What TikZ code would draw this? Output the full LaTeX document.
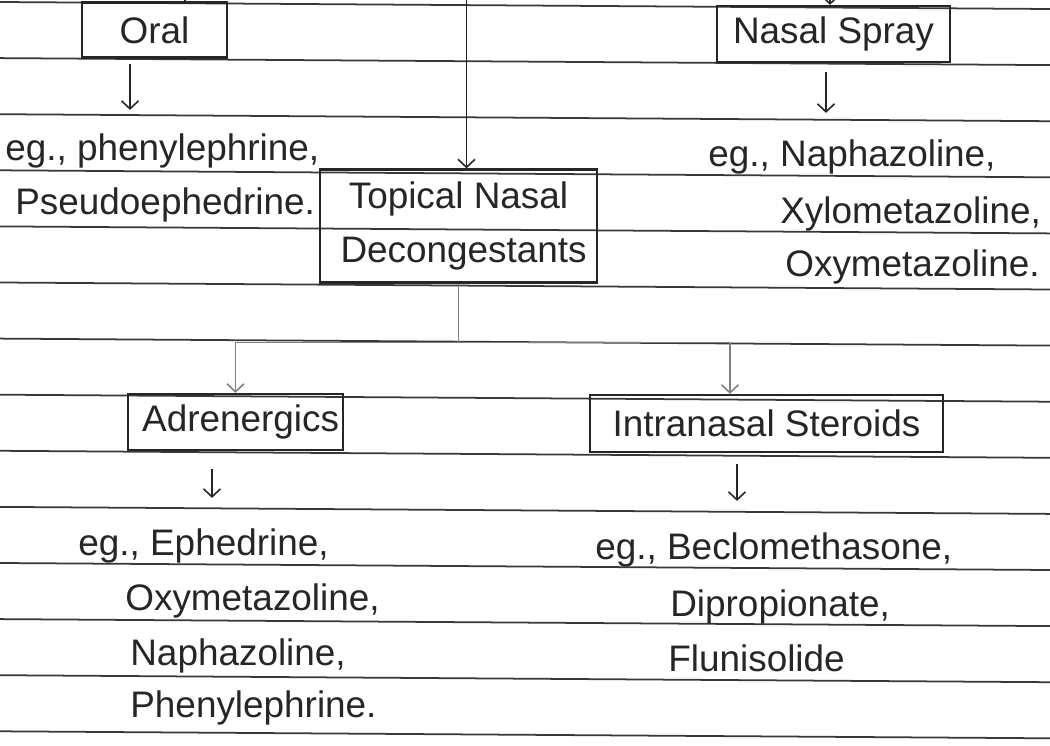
\documentclass[tikz,border=0pt]{standalone}
\usepackage{fontspec}
\setmainfont{Liberation Sans}
\usetikzlibrary{arrows.meta,positioning,calc}
\definecolor{ink}{HTML}{262626}
\definecolor{pencil}{HTML}{808080}
\tikzset{box/.style={draw=ink, line width=1.3pt, inner sep=0pt, text=ink},
  txt/.style={anchor=base west, inner sep=0pt, text=ink},
  rule/.style={draw=black!78, line width=1pt},
  arr/.style={draw=ink, line width=0.9pt, -{Straight Barb[length=1.6mm,width=3.4mm]}},
  faint/.style={draw=pencil, line width=0.9pt}}

\begin{document}
\begin{tikzpicture}[font=\fontsize{21}{25}\selectfont]
\useasboundingbox[fill=white] (0,0) rectangle (21,-14.92);
% ruled lines of the page
\foreach \i in {0,...,13}
  \draw[rule] (0,-0.04-1.122*\i) -- (21,-0.18-1.122*\i);

\draw (3.09,-0.6) node[box, minimum width=2.9cm, minimum height=1.1cm] (oral) {Oral};
\draw (16.67,-0.68) node[box, minimum width=4.66cm, minimum height=1.12cm] (nasal) {Nasal Spray};
\draw (9.17,-4.52) node[box, minimum width=5.54cm, minimum height=2.26cm, align=center,
  font=\fontsize{21}{31}\selectfont] (topical) {Topical Nasal\\ \ Decongestants};
\draw (4.71,-8.44) node[box, minimum width=4.3cm, minimum height=1.12cm] (adr) {\ Adrenergics};
\draw (15.33,-8.47) node[box, minimum width=7.06cm, minimum height=1.14cm] (intr) {Intranasal Steroids};

\draw (0.1,-3.2) node[txt] (ex1) {eg., phenylephrine,};
\draw (0.3,-4.28) node[txt] (ex2) {Pseudoephedrine.};
\draw (14.16,-3.32) node[txt] (ns1) {eg., Naphazoline,};
\draw (15.6,-4.46) node[txt] (ns2) {Xylometazoline,};
\draw (15.7,-5.52) node[txt] (ns3) {Oxymetazoline.};
\draw (1.56,-11.1) node[txt] (ad1) {eg., Ephedrine,};
\draw (2.5,-12.2) node[txt] (ad2) {Oxymetazoline,};
\draw (2.6,-13.3) node[txt] (ad3) {Naphazoline,};
\draw (2.6,-14.34) node[txt] (ad4) {Phenylephrine.};
\draw (11.9,-11.18) node[txt] (st1) {eg., Beclomethasone,};
\draw (13.4,-12.32) node[txt] (st2) {Dipropionate,};
\draw (13.36,-13.42) node[txt] (st3) {Flunisolide};

% lines coming in from the previous page
\coordinate (in0) at (3.7,0.2);
\coordinate (in1) at (9.33,0);
\coordinate (in2) at (16.6,0.1);
\draw[draw=ink, line width=1pt] (in0) -- (in0 |- oral.north);
\draw[arr] (in1) -- (in1 |- topical.north);
\draw[arr] (in2) -- (in2 |- nasal.north);

\draw[arr, shorten <=0.1cm, shorten >=0.46cm] ([xshift=-0.49cm]oral.south) -- ([xshift=-0.49cm]oral.south |- ex1.north);
\draw[arr, shorten <=0.18cm, shorten >=0.52cm] ([xshift=-0.15cm]nasal.south) -- ([xshift=-0.15cm]nasal.south |- ns1.north);

\draw[faint] (topical.south) -- ++(0,-1.18) coordinate (split);
\draw[faint, arr, draw=pencil] (split) -| (adr.north);
\draw[faint, arr, draw=pencil] (split) -| ([xshift=-0.73cm]intr.north);

\draw[arr, shorten <=0.36cm, shorten >=0.6cm] ([xshift=-0.47cm]adr.south) -- ([xshift=-0.47cm]adr.south |- ad1.north);
\draw[arr, shorten <=0.22cm, shorten >=0.62cm] ([xshift=-0.59cm]intr.south) -- ([xshift=-0.59cm]intr.south |- st1.north);
\end{tikzpicture}
\end{document}
